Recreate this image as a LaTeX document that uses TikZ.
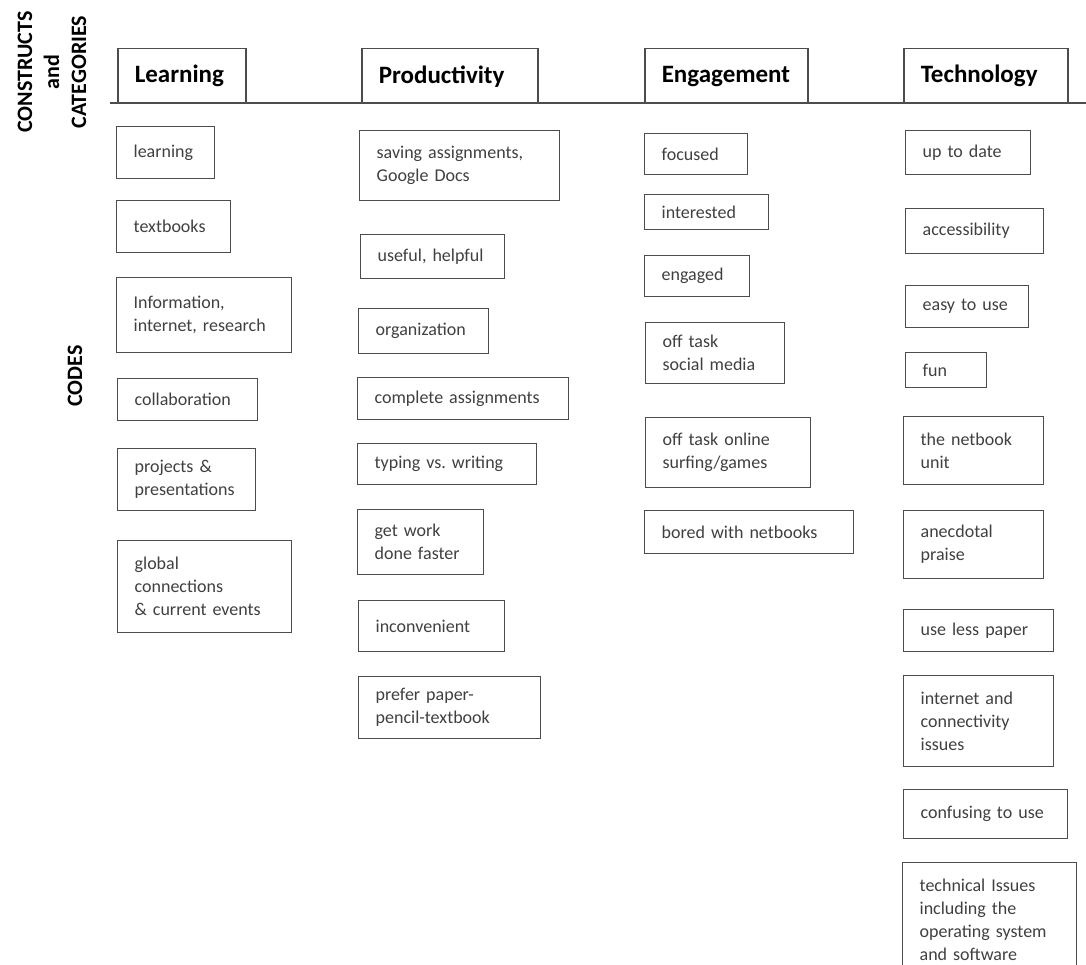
\documentclass[tikz,border=0pt]{standalone}
\usepackage{fontspec}
\setmainfont{Carlito}
\usepackage{tikz}

\begin{document}
\begin{tikzpicture}[x=1pt, y=-1pt,
  cat/.style={draw=black!70, line width=1.5pt, anchor=north west, inner xsep=17pt, inner ysep=0pt, align=left, minimum height=55pt, font=\bfseries\fontsize{25}{29}\selectfont},
  code/.style={draw=black!70, line width=1.3pt, anchor=north west, inner xsep=17pt, inner ysep=0pt, align=left, text=black!75, font=\fontsize{18}{23}\selectfont},
  side/.style={rotate=90, align=center, font=\bfseries\fontsize{22}{27}\selectfont}]
\useasboundingbox (0, 0) rectangle (1086, 965);
\fill[white] (0, 0) rectangle (1086, 965);
%Side labels
\node[side] (constructs) at (52, 72) {CONSTRUCTS\\and\\CATEGORIES};
\node[side] (codes) at (75, 376) {CODES};
%Rule under the categories
\coordinate (rulestart) at (110, 103);
\coordinate (ruleend) at (1086, 103);
\draw[black!70, line width=2.5pt] (rulestart) -- (ruleend);
%Categories
\node[cat, text width=94pt] (learning) at (117, 48) {Learning};
\node[cat, text width=142pt] (productivity) at (361, 48) {Productivity};
\node[cat, text width=129pt] (engagement) at (644, 48) {Engagement};
\node[cat, text width=130pt] (technology) at (903, 48) {Technology};
%Learning
\node[code, text width=64pt, minimum height=52pt] (l1) at (116, 126) {learning};
\node[code, text width=80pt, minimum height=52pt] (l2) at (116, 200) {textbooks};
\node[code, text width=141pt, minimum height=75pt] (l3) at (116, 277) {Information,\\internet, research};
\node[code, text width=106pt, minimum height=42pt] (l4) at (117, 378) {collaboration};
\node[code, text width=104pt, minimum height=62pt] (l5) at (117, 448) {projects \&\\presentations};
\node[code, text width=140pt, minimum height=92pt] (l6) at (117, 540) {global\\connections\\\& current events};
%Productivity
\node[code, text width=166pt, minimum height=70pt] (p1) at (359, 130) {saving assignments,\\Google Docs};
\node[code, text width=110pt, minimum height=44pt] (p2) at (360, 234) {useful, helpful};
\node[code, text width=96pt, minimum height=45pt] (p3) at (358, 308) {organization};
\node[code, text width=177pt, minimum height=42pt] (p4) at (357, 377) {complete assignments};
\node[code, text width=145pt, minimum height=41pt] (p5) at (357, 443) {typing vs.\ writing};
\node[code, text width=92pt, minimum height=65pt] (p6) at (357, 509) {get work\\done faster};
\node[code, text width=112pt, minimum height=51pt] (p7) at (358, 600) {inconvenient};
\node[code, text width=148pt, minimum height=62pt] (p8) at (358, 676) {prefer paper-\\pencil-textbook};
%Engagement
\node[code, text width=69pt, minimum height=41pt] (e1) at (644, 133) {focused};
\node[code, text width=90pt, minimum height=35pt] (e2) at (644, 194) {interested};
\node[code, text width=71pt, minimum height=41pt] (e3) at (644, 255) {engaged};
\node[code, text width=105pt, minimum height=61pt] (e4) at (645, 322) {off task\\social media};
\node[code, text width=131pt, minimum height=70pt] (e5) at (645, 417) {off task online\\surfing/games};
\node[code, text width=175pt, minimum height=43pt] (e6) at (644, 510) {bored with netbooks};
%Technology
\node[code, text width=91pt, minimum height=44pt] (t1) at (905, 130) {up to date};
\node[code, text width=104pt, minimum height=45pt] (t2) at (905, 208) {accessibility};
\node[code, text width=89pt, minimum height=42pt] (t3) at (905, 285) {easy to use};
\node[code, text width=47pt, minimum height=35pt] (t4) at (905, 352) {fun};
\node[code, text width=106pt, minimum height=68pt] (t5) at (903, 416) {the netbook\\unit};
\node[code, text width=106pt, minimum height=68pt] (t6) at (903, 510) {anecdotal\\praise};
\node[code, text width=116pt, minimum height=42pt] (t7) at (903, 609) {use less paper};
\node[code, text width=116pt, minimum height=91pt] (t8) at (903, 675) {internet and\\connectivity\\issues};
\node[code, text width=130pt, minimum height=49pt] (t9) at (903, 789) {confusing to use};
\node[code, text width=140pt, minimum height=115pt] (t10) at (902, 862) {technical Issues\\including the\\operating system\\and software};
\end{tikzpicture}
\end{document}
